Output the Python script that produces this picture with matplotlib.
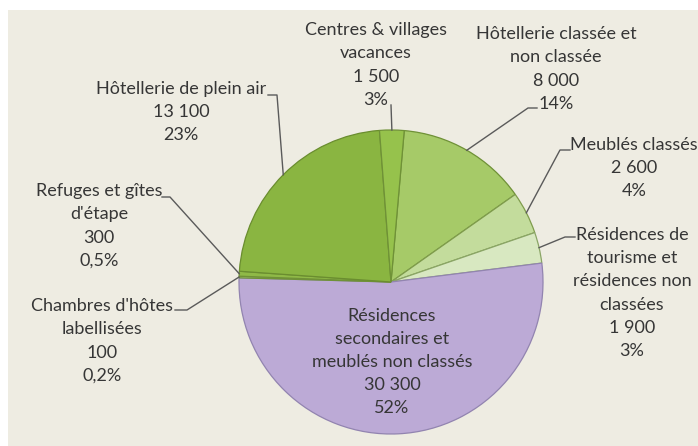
import numpy as np
import matplotlib.pyplot as plt

# Données (hébergements touristiques, nombre de lits)
categories = [
    "Hôtellerie classée et\nnon classée",
    "Meublés classés",
    "Résidences de\ntourisme et\nrésidences non\nclassées",
    "Résidences\nsecondaires et\nmeublés non classés",
    "Chambres d'hôtes\nlabellisées",
    "Refuges et gîtes\nd'étape",
    "Hôtellerie de plein air",
    "Centres & villages\nvacances",
]
values = [8000, 2600, 1900, 30300, 100, 300, 13100, 1500]
pct_labels = ["14%", "4%", "3%", "52%", "0,2%", "0,5%", "23%", "3%"]

colors = ["#a6ca68", "#c3dc9c", "#d8e8c1", "#bcaad6",
          "#b3d486", "#8fb947", "#8ab541", "#96c24c"]
edge_colors = ["#6f9137", "#7f9c4c", "#8aa566", "#9284b0",
               "#6f9137", "#6f9137", "#6a8d2f", "#6f9137"]

# Mise en page (pixels, origine en haut à gauche)
W, H = 698, 446
cx, cy, r = 391, 282, 152
label_xy = [(556, 69), (634, 168), (632, 293), (392, 362),
            (102, 341), (99, 226), (181, 112), (376, 65)]
leader_xy = [[(537, 108), (528, 108)], [(570, 150), (560, 150)],
             [(575, 237), (565, 237)], None,
             [(175, 310), (187, 310)], [(162, 197), (170, 197)],
             [(268, 95), (277, 95)], [(391, 105)]]

plt.rcParams["font.family"] = ["Lato", "DejaVu Sans"]

fig = plt.figure(figsize=(W / 100, H / 100), dpi=100)
fig.patch.set_facecolor("white")
ax = fig.add_axes([0, 0, 1, 1])
ax.add_patch(plt.Rectangle((8, 0), W - 8, H - 10, facecolor="#eeece2",
                           edgecolor="none", zorder=0))

wedges, _ = ax.pie(values, colors=colors, startangle=85, counterclock=False,
                   center=(cx, H - cy), radius=r,
                   wedgeprops=dict(linewidth=0.9))
for w, ec in zip(wedges, edge_colors):
    w.set_edgecolor(ec)
    w.set_zorder(2)

ax.set_xlim(0, W)
ax.set_ylim(0, H)
ax.set_aspect("equal")
ax.axis("off")

for i, w in enumerate(wedges):
    val = f"{values[i]:,}".replace(",", " ")
    x, y = label_xy[i]
    ax.text(x, H - y, f"{categories[i]}\n{val}\n{pct_labels[i]}",
            ha="center", va="center", multialignment="center",
            fontsize=13, linespacing=1.55, color="#363636", zorder=4)
    if leader_xy[i] is None:
        continue
    mid = np.deg2rad((w.theta1 + w.theta2) / 2)
    px = cx + r * np.cos(mid)
    py = H - cy + r * np.sin(mid)
    xs = [p[0] for p in leader_xy[i]] + [px]
    ys = [H - p[1] for p in leader_xy[i]] + [py]
    ax.plot(xs, ys, color="#5a5a5a", lw=1, zorder=3)

fig.savefig("out.png", dpi=100)
